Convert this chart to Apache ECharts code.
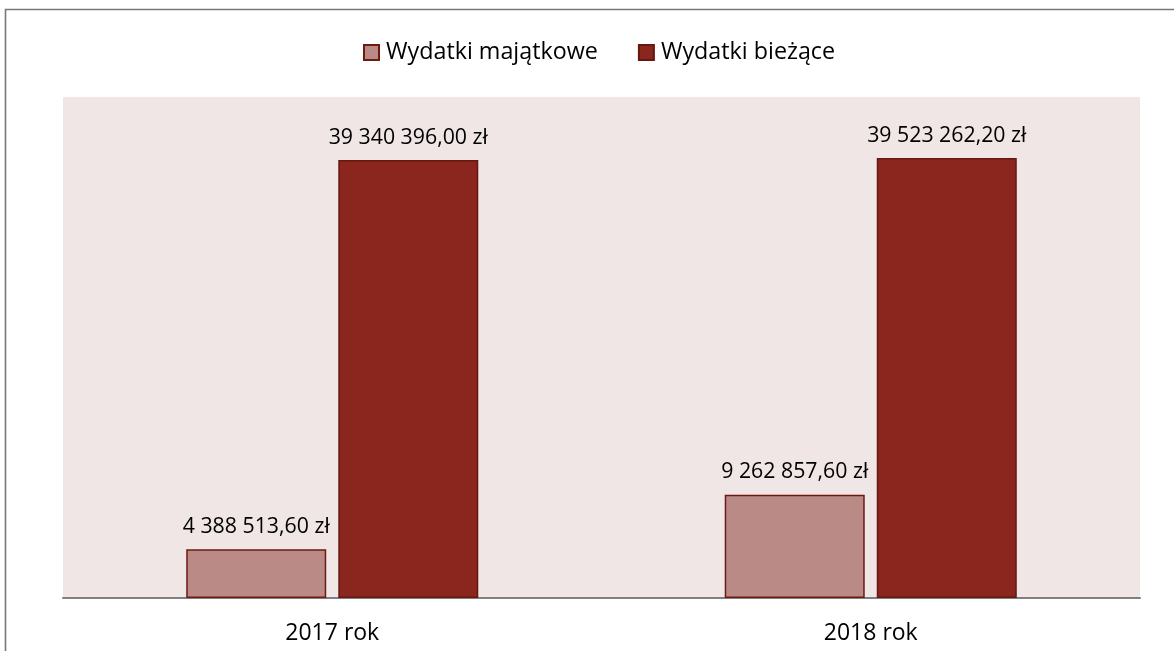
<!DOCTYPE html>
<html>
<head>
<meta charset="utf-8">
<script src="https://cdn.jsdelivr.net/npm/echarts@6/dist/echarts.min.js"></script>
<style>
html,body{margin:0;padding:0;background:#fff;}
#chart{width:1174px;height:651px;}
</style>
</head>
<body>
<div id="chart"></div>
<script>
const categories = ['2017 rok', '2018 rok'];
const seriesNames = ['Wydatki majątkowe', 'Wydatki bieżące'];
const majatkowe = [4388513.60, 9262857.60];
const biezace = [39340396.00, 39523262.20];

function fmt(v) {
  const parts = v.toFixed(2).split('.');
  const intPart = parts[0].replace(/\B(?=(\d{3})+(?!\d))/g, ' ');
  return intPart + ',' + parts[1] + ' zł';
}

const FONT = '"Open Sans", sans-serif';
const chart = echarts.init(document.getElementById('chart'), null, {renderer: 'canvas'});

const labelCfg = {
  show: true,
  position: 'top',
  distance: 12,
  color: '#000',
  fontFamily: FONT,
  fontSize: 21.3,
  formatter: p => fmt(p.value)
};

chart.setOption({
  animation: false,
  backgroundColor: '#fff',
  graphic: [{
    type: 'rect',
    shape: {x: 5.5, y: 9.5, width: 1300, height: 800},
    style: {fill: 'none', stroke: '#777777', lineWidth: 1.6},
    silent: true,
    z: 100
  }],
  legend: {
    top: 36,
    left: 358,
    itemWidth: 15,
    itemHeight: 15,
    itemGap: 40,
    icon: 'rect',
    textStyle: {fontFamily: FONT, fontSize: 23.3, color: '#000', padding: [0, 0, 0, 2]},
    data: seriesNames
  },
  grid: {
    left: 63, right: 34, top: 97, bottom: 53,
    show: true, backgroundColor: '#EFE6E5', borderWidth: 0
  },
  xAxis: {
    type: 'category',
    data: categories,
    axisLine: {show: true, lineStyle: {color: '#808080', width: 2}},
    axisTick: {show: false},
    axisLabel: {color: '#000', fontFamily: FONT, fontSize: 23, margin: 24}
  },
  yAxis: {
    type: 'value',
    min: 0,
    max: 45000000,
    show: false,
    splitLine: {show: false}
  },
  series: [
    {
      name: seriesNames[0],
      type: 'bar',
      data: majatkowe,
      barWidth: 140,
      barGap: '8.6%',
      itemStyle: {color: '#BA8A87', borderColor: '#6E1A12', borderWidth: 1.5},
      label: labelCfg
    },
    {
      name: seriesNames[1],
      type: 'bar',
      data: biezace,
      barWidth: 140,
      barGap: '8.6%',
      itemStyle: {color: '#8A261E', borderColor: '#661810', borderWidth: 1.5},
      label: labelCfg
    }
  ]
});
</script>
</body>
</html>
